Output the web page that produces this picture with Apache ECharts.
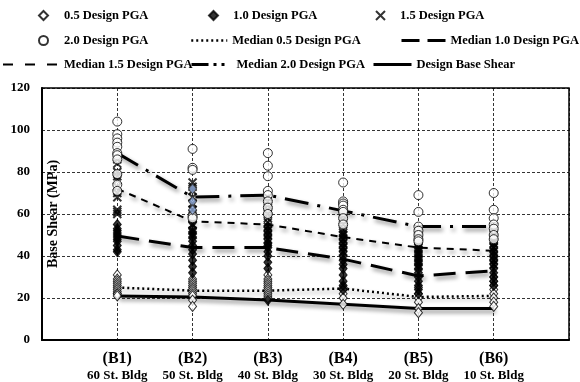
<!DOCTYPE html>
<html>
<head>
<meta charset="utf-8">
<script src="https://cdn.jsdelivr.net/npm/echarts@6/dist/echarts.min.js"></script>
<style>html,body{margin:0;padding:0;background:#fff;}#c{width:580px;height:382px;}</style>
</head>
<body>
<div id="c"></div>
<script>
// ---- data ----
const categories = ['(B1)', '(B2)', '(B3)', '(B4)', '(B5)', '(B6)'];
const buildings = ['60 St. Bldg', '50 St. Bldg', '40 St. Bldg', '30 St. Bldg', '20 St. Bldg', '10 St. Bldg'];
const yTicks = [0, 20, 40, 60, 80, 100, 120];

// scatter values per building (B1..B6)
const pga05 = [
  [31, 29, 28, 27, 26, 25, 24, 23, 22, 22, 21],
  [29, 28, 27, 26, 25, 24, 23, 22, 21, 19, 16],
  [31, 29, 28, 27, 26, 25, 24, 23, 22, 21, 20],
  [25, 24, 22, 20, 17],
  [25, 22, 20, 18, 15, 13],
  [30, 28, 26, 24, 22, 20, 18, 16]
];
const pga10 = [
  [55, 53, 52, 51, 50, 49, 48, 47, 45, 43, 42],
  [56, 53, 51, 49, 47, 45, 43, 41, 38, 35, 32],
  [54, 52, 50, 48, 46, 45, 44, 42, 40, 37, 34, 19],
  [50, 48, 46, 44, 42, 40, 38, 36, 34, 31, 28, 26, 24],
  [46, 44, 42, 40, 38, 36, 34, 32, 30, 28, 26, 24, 22],
  [48, 46, 44, 42, 40, 38, 36, 34, 32, 30, 28, 26]
];
const pga15 = [
  [86, 84, 80, 78, 76, 73, 70, 68, 62, 60, 61],
  [75, 73, 71, 68, 65, 62, 60, 58, 55, 52, 50],
  [68, 66, 64, 62, 60, 58, 56, 54, 52, 50, 48],
  [61, 59, 57, 55, 53, 51, 50, 48, 46, 44, 42],
  [53, 51, 49, 47, 45, 43, 41, 39, 37, 35],
  [54, 52, 50, 48, 46, 44, 42, 40, 38, 36]
];
const pga20 = [
  [104, 98, 96, 94, 92, 89, 88, 86, 79, 74, 71],
  [91, 82, 81, 59, 58],
  [89, 83, 78, 71, 69, 66, 63, 60],
  [75, 66, 65, 64, 62, 61, 58, 55],
  [69, 61, 54, 52, 50, 48, 47],
  [70, 62, 58, 55, 53, 50, 48]
];
// light-blue filled markers seen at B2
const highlightB2 = [72, 66, 62];

// median / design lines
const median05 = [25, 23.5, 23.5, 24.5, 20.5, 21];
const median10 = [49.5, 44, 44, 38.5, 30.5, 33];
const median15 = [72, 56.5, 55, 49, 44, 42.5];
const median20 = [89, 68, 69, 61.5, 54, 54];
const designBaseShear = [21, 20.5, 19, 17, 15, 15];

// ---- build ----
const FONT = '"Liberation Serif", "Times New Roman", serif';
function toPoints(groups) {
  const out = [];
  groups.forEach((g, i) => g.forEach(v => out.push([i + 1, v])));
  return out;
}
function toLine(vals) { return vals.map((v, i) => [i + 1, v]); }
const shadow = { shadowColor: 'rgba(0,0,0,0.45)', shadowBlur: 4, shadowOffsetX: 2, shadowOffsetY: 3 };
const X_PATH = 'path://M0,0L10,10M10,0L0,10';

function lineSeries(name, vals, width, type) {
  return {
    name, type: 'line', data: toLine(vals), symbol: 'none', z: 2,
    lineStyle: Object.assign({ color: '#000', width, type }, shadow),
    itemStyle: { color: '#000' }
  };
}

const series = [
  lineSeries('Median 0.5 Design PGA', median05, 2.5, [2, 3]),
  lineSeries('Median 1.0 Design PGA', median10, 3, [22, 10]),
  lineSeries('Median 1.5 Design PGA', median15, 2, [7, 6]),
  lineSeries('Median 2.0 Design PGA', median20, 3, [24, 9, 3, 9]),
  lineSeries('Design Base Shear', designBaseShear, 3, 'solid'),
  { name: '0.5 Design PGA', type: 'scatter', data: toPoints(pga05), symbol: 'diamond', symbolSize: [8, 10], z: 3,
    itemStyle: { color: '#fff', borderColor: '#000', borderWidth: 1 } },
  { name: '1.0 Design PGA', type: 'scatter', data: toPoints(pga10), symbol: 'diamond', symbolSize: [8, 10], z: 3,
    itemStyle: { color: '#000', borderColor: '#000', borderWidth: 1 } },
  { name: '1.5 Design PGA', type: 'scatter', data: toPoints(pga15), symbol: X_PATH, symbolSize: 8, z: 3,
    itemStyle: { color: 'rgba(0,0,0,0)', borderColor: '#000', borderWidth: 2 } },
  { name: '2.0 Design PGA', type: 'scatter', data: toPoints(pga20), symbol: 'circle', symbolSize: 9, z: 3,
    itemStyle: { color: '#fff', borderColor: '#000', borderWidth: 1 } },
  { name: 'highlight', type: 'scatter', data: highlightB2.map(v => [2, v]), symbol: 'diamond', symbolSize: [8, 10], z: 4,
    itemStyle: { color: '#8eaadb', borderColor: '#333', borderWidth: 1 } }
];

const legendText = (padLeft) => ({ fontFamily: FONT, fontWeight: 'bold', fontSize: 12.5, color: '#000', padding: [0, 0, 0, padLeft] });
function symbolLegend(name, left, top, pad) {
  return { data: [name], left, top, itemWidth: 9, itemHeight: 9, padding: 0, itemGap: 0,
    selectedMode: false, textStyle: legendText(pad) };
}
function lineLegend(name, left, top, itemWidth, width, type, pad) {
  return { data: [{ name, itemStyle: { opacity: 0 }, lineStyle: { width, type } }], left, top, itemWidth, itemHeight: 10,
    padding: 0, itemGap: 0, selectedMode: false, textStyle: legendText(pad || 0) };
}

const option = {
  animation: false,
  backgroundColor: '#fff',
  legend: [
    symbolLegend('0.5 Design PGA', 38, 9, 11),
    symbolLegend('1.0 Design PGA', 208, 9, 10),
    symbolLegend('1.5 Design PGA', 375, 9, 10),
    symbolLegend('2.0 Design PGA', 38, 34, 11),
    lineLegend('Median 0.5 Design PGA', 190, 34, 36, 2.5, [2, 3]),
    lineLegend('Median 1.0 Design PGA', 400, 34, 44, 3, [18, 8]),
    lineLegend('Median 1.5 Design PGA', 2, 58, 54, 2, [10, 12], 2),
    lineLegend('Median 2.0 Design PGA', 190, 58, 40, 3, [17, 5, 3, 5, 3, 7]),
    lineLegend('Design Base Shear', 372, 58, 38, 3, 'solid')
  ],
  grid: { left: 42, right: 11, top: 88, bottom: 42, containLabel: false, outerBoundsMode: 'none',
    show: true, borderColor: '#000', borderWidth: 1.5, backgroundColor: 'transparent' },
  xAxis: {
    type: 'value', min: 0, max: 7, interval: 1,
    axisLine: { show: true, onZero: false, lineStyle: { color: '#000', width: 2 } },
    axisTick: { show: false },
    splitLine: { show: true, lineStyle: { color: '#000', width: 0.8, type: [3, 2] } },
    axisLabel: {
      margin: 10,
      formatter: v => (v >= 1 && v <= 6) ? '{a|' + categories[v - 1] + '}\n{b|' + buildings[v - 1] + '}' : '',
      rich: {
        a: { fontFamily: FONT, fontWeight: 'bold', fontSize: 16, color: '#000', lineHeight: 18 },
        b: { fontFamily: FONT, fontWeight: 'bold', fontSize: 13, color: '#000', lineHeight: 15 }
      }
    }
  },
  yAxis: {
    type: 'value', min: yTicks[0], max: yTicks[yTicks.length - 1], interval: 20,
    name: 'Base Shear (MPa)', nameLocation: 'middle', nameGap: -18, nameRotate: 90, nameMoveOverlap: false,
    nameTextStyle: { fontFamily: FONT, fontWeight: 'bold', fontSize: 14, color: '#000' },
    axisLine: { show: true, lineStyle: { color: '#000', width: 2 } },
    axisTick: { show: false },
    splitLine: { show: true, lineStyle: { color: '#000', width: 0.8, type: [3, 2] } },
    axisLabel: { fontFamily: FONT, fontWeight: 'bold', fontSize: 13, color: '#000', margin: 12 }
  },
  series
};
const chart = echarts.init(document.getElementById('c'), null, { renderer: 'canvas' });
chart.setOption(option);
</script>
</body>
</html>
